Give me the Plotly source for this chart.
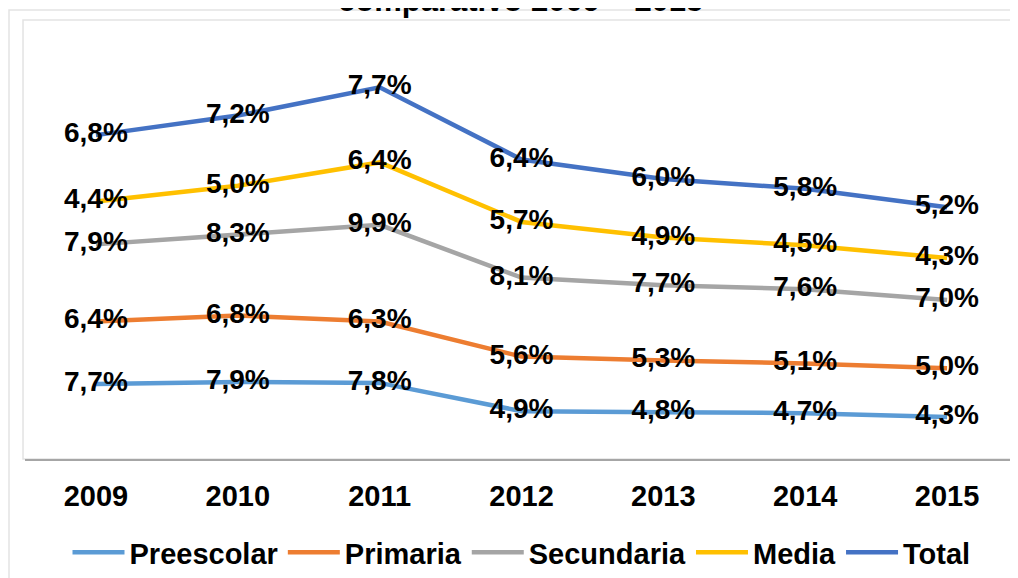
import plotly.graph_objects as go

years = ["2009", "2010", "2011", "2012", "2013", "2014", "2015"]
preescolar = [7.7, 7.9, 7.8, 4.9, 4.8, 4.7, 4.3]
primaria = [6.4, 6.8, 6.3, 5.6, 5.3, 5.1, 5.0]
secundaria = [7.9, 8.3, 9.9, 8.1, 7.7, 7.6, 7.0]
media = [4.4, 5.0, 6.4, 5.7, 4.9, 4.5, 4.3]
total = [6.8, 7.2, 7.7, 6.4, 6.0, 5.8, 5.2]

series = [
    ("Preescolar", preescolar, "#5B9BD5"),
    ("Primaria", primaria, "#ED7D31"),
    ("Secundaria", secundaria, "#A5A5A5"),
    ("Media", media, "#FFC000"),
    ("Total", total, "#4472C4"),
]

FONT = "Liberation Sans"

fig = go.Figure()
for name, vals, color in series:
    fig.add_trace(go.Scatter(
        x=years, y=vals, name=name,
        mode="lines+text",
        stackgroup="one", fill="none",
        line=dict(color=color, width=4.5),
        text=[f"{v:.1f}%".replace(".", ",") for v in vals],
        textposition="middle center",
        textfont=dict(family=FONT, size=28, color="#000000", weight="bold"),
        hoverinfo="skip",
    ))

# page offset of the figure (browser body margin) is 8px
OFF = 8
top_px, base_px = 20, 459          # page pixels
ph = base_px - top_px

def py(px):
    return (base_px - px) / ph

W, H = 1018 - OFF, 578 - OFF
fig.update_layout(
    width=W, height=H,
    margin=dict(l=25 - OFF, r=0, t=top_px - OFF, b=H - (base_px - OFF)),
    paper_bgcolor="white", plot_bgcolor="white",
    showlegend=True,
    legend=dict(orientation="h", x=0.5, xanchor="center", y=py(553), yanchor="middle",
                font=dict(family=FONT, size=29, color="#000000", weight="bold"),
                itemwidth=52, tracegroupgap=0),
    xaxis=dict(type="category", range=[-0.5, 6.5], showgrid=False, zeroline=False,
               showline=True, linecolor="#A6A6A6", linewidth=1.5,
               tickfont=dict(family=FONT, size=29, color="#000000", weight="bold"),
               ticks="", ticklabelstandoff=10, fixedrange=True),
    yaxis=dict(range=[0, 45], visible=False, fixedrange=True),
    shapes=[
        dict(type="rect", xref="paper", yref="paper", x0=-0.002, x1=1.01, y0=0, y1=1,
             line=dict(color="#E3E3E3", width=1.5), layer="below"),
        dict(type="rect", xref="paper", yref="paper", x0=(9 - 25) / 993, x1=1.1,
             y0=-0.5, y1=py(10), line=dict(color="#E3E3E3", width=1.5), layer="below"),
    ],
    annotations=[
        dict(text="comparativo 2009 – 2015", xref="paper", yref="paper",
             x=(520 - 25) / 993, y=py(0), xanchor="center", yanchor="middle",
             showarrow=False,
             font=dict(family=FONT, size=31, color="#000000", weight="bold")),
    ],
)

fig.write_html("out.html")
